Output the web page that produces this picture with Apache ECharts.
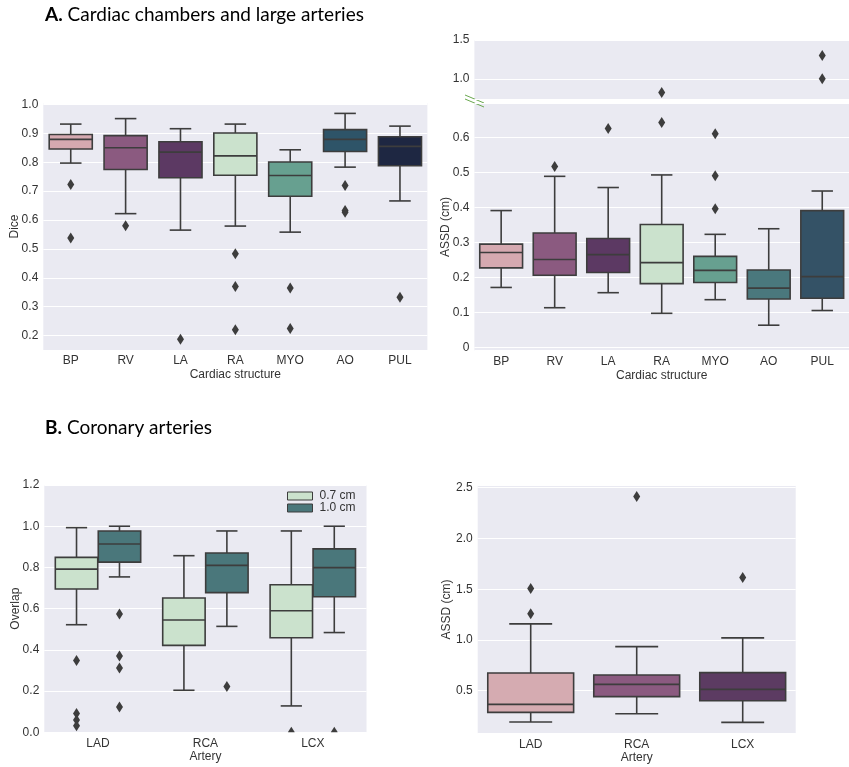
<!DOCTYPE html>
<html>
<head>
<meta charset="utf-8">
<script src="https://cdn.jsdelivr.net/npm/echarts@6/dist/echarts.min.js"></script>
<style>
  html, body { margin: 0; padding: 0; background: #fff; }
  #chart { width: 849px; height: 767px; }
</style>
</head>
<body>
<div id="chart"></div>
<script>
// ---- data ----
var structures = ['BP', 'RV', 'LA', 'RA', 'MYO', 'AO', 'PUL'];
// [lower whisker, Q1, median, Q3, upper whisker]
var diceStats = [
  [0.797, 0.846, 0.879, 0.896, 0.932],
  [0.622, 0.775, 0.850, 0.892, 0.951],
  [0.565, 0.746, 0.835, 0.871, 0.916],
  [0.579, 0.755, 0.822, 0.901, 0.932],
  [0.558, 0.682, 0.754, 0.801, 0.843],
  [0.783, 0.837, 0.879, 0.913, 0.969],
  [0.666, 0.788, 0.855, 0.888, 0.925]
];
var diceOutliers = [
  [0.723, 0.538],
  [0.580],
  [0.187],
  [0.483, 0.370, 0.220],
  [0.365, 0.224],
  [0.719, 0.633, 0.627],
  [0.333]
];
var assdStats = [
  [0.171, 0.227, 0.271, 0.295, 0.391],
  [0.113, 0.206, 0.251, 0.327, 0.489],
  [0.156, 0.214, 0.265, 0.311, 0.457],
  [0.097, 0.182, 0.242, 0.351, 0.493],
  [0.136, 0.185, 0.220, 0.260, 0.323],
  [0.063, 0.138, 0.169, 0.221, 0.339],
  [0.105, 0.140, 0.202, 0.391, 0.447]
];
var assdOutliers = [
  [],
  [0.517],
  [0.626],
  [0.643, 0.824],
  [0.611, 0.491, 0.396],
  [],
  [1.30, 1.00]
];

var arteries = ['LAD', 'RCA', 'LCX'];
var overlap07Stats = [
  [0.522, 0.695, 0.792, 0.849, 0.993],
  [0.204, 0.422, 0.545, 0.652, 0.857],
  [0.128, 0.459, 0.590, 0.716, 0.977]
];
var overlap10Stats = [
  [0.754, 0.826, 0.914, 0.977, 1.000],
  [0.514, 0.678, 0.810, 0.870, 0.977],
  [0.484, 0.658, 0.799, 0.890, 1.000]
];
var overlap07Outliers = [[0.348, 0.091, 0.060, 0.032], [], [0.0]];
var overlap10Outliers = [[0.574, 0.370, 0.312, 0.123], [0.222], [0.0]];
var overlapNames = ['0.7 cm', '1.0 cm'];

var arteryAssdStats = [
  [0.191, 0.286, 0.365, 0.674, 1.158],
  [0.273, 0.441, 0.562, 0.655, 0.934],
  [0.188, 0.401, 0.513, 0.678, 1.020]
];
var arteryAssdOutliers = [[1.507, 1.257], [2.414], [1.615]];

// ---- styles ----
var chamberColors = ['#d5a9b0', '#8b5a80', '#5c3963', '#cbe2cd', '#67a090', '#2e5468', '#1e2742'];
var assdColors = ['#d5a9b0', '#8b5a80', '#5c3963', '#cbe2cd', '#67a090', '#4a787d', '#345266'];
var overlapColors = ['#cbe2cd', '#4a777b'];
var arteryColors = ['#d5abb1', '#8b5a80', '#5c3b62'];
var EDGE = '#3d3d3d';
var BG = '#eaeaf2';
var TXT = '#333';
var FONT = '"Liberation Sans", Arial, sans-serif';
var TITLE_FONT = 'Lato, sans-serif';

function boxData(stats) {
  return stats.map(function (s, i) { return [i].concat(s); });
}
function flierData(outliers) {
  var out = [];
  outliers.forEach(function (vals, i) {
    vals.forEach(function (v) { out.push([i, v]); });
  });
  return out;
}

// box + whiskers (caps half the box width), drawn through the axes' scales
function boxRenderer(widthFrac, offsetFrac, colors) {
  return function (params, api) {
    var cat = api.value(0);
    var band = api.size([1, 0])[0];
    var w = band * widthFrac;
    var cx = api.coord([cat, 0])[0] + band * offsetFrac;
    var y = [1, 2, 3, 4, 5].map(function (d) { return api.coord([cat, api.value(d)])[1]; });
    var ls = { stroke: EDGE, lineWidth: 1.6 };
    var cap = w / 4;
    var fill = typeof colors === 'string' ? colors : colors[params.dataIndex];
    return {
      type: 'group',
      children: [
        { type: 'line', shape: { x1: cx, y1: y[4], x2: cx, y2: y[3] }, style: ls },
        { type: 'line', shape: { x1: cx, y1: y[1], x2: cx, y2: y[0] }, style: ls },
        { type: 'line', shape: { x1: cx - cap, y1: y[4], x2: cx + cap, y2: y[4] }, style: ls },
        { type: 'line', shape: { x1: cx - cap, y1: y[0], x2: cx + cap, y2: y[0] }, style: ls },
        { type: 'rect', shape: { x: cx - w / 2, y: y[3], width: w, height: y[1] - y[3] },
          style: { fill: fill, stroke: EDGE, lineWidth: 1.6 } },
        { type: 'line', shape: { x1: cx - w / 2, y1: y[2], x2: cx + w / 2, y2: y[2] }, style: ls }
      ]
    };
  };
}

// diamond flier markers
function flierRenderer(offsetFrac) {
  return function (params, api) {
    var band = api.size([1, 0])[0];
    var p = api.coord([api.value(0), api.value(1)]);
    var cx = p[0] + band * offsetFrac, cy = p[1];
    return {
      type: 'polygon',
      shape: { points: [[cx, cy - 5.5], [cx + 3.5, cy], [cx, cy + 5.5], [cx - 3.5, cy]] },
      style: { fill: EDGE }
    };
  };
}

function catAxis(gridIndex, cats, opts) {
  var a = {
    type: 'category', gridIndex: gridIndex, data: cats, boundaryGap: true,
    axisLine: { show: false }, axisTick: { show: false }, splitLine: { show: false },
    axisLabel: { color: TXT, fontFamily: FONT, fontSize: 12, margin: 5 },
    nameLocation: 'middle', nameMoveOverlap: false,
    nameTextStyle: { color: TXT, fontFamily: FONT, fontSize: 12 }
  };
  for (var k in opts) a[k] = opts[k];
  return a;
}
function valAxis(gridIndex, opts) {
  var a = {
    type: 'value', gridIndex: gridIndex,
    axisLine: { show: false }, axisTick: { show: false },
    splitLine: { show: true, lineStyle: { color: '#fff', width: 1.2 } },
    axisLabel: { color: TXT, fontFamily: FONT, fontSize: 12, margin: 5, showMinLabel: false, showMaxLabel: false },
    nameLocation: 'middle', nameMoveOverlap: false,
    nameTextStyle: { color: TXT, fontFamily: FONT, fontSize: 12 }
  };
  for (var k in opts) a[k] = opts[k];
  return a;
}
function fmt1(v) { return v.toFixed(1); }

var chart = echarts.init(document.getElementById('chart'), null, { renderer: 'canvas' });

var gridBase = { show: true, backgroundColor: BG, borderWidth: 0 };
function grid(l, r, t, b) {
  return Object.assign({ left: l, right: r, top: t, bottom: b }, gridBase);
}
function panelTitle(text, top) {
  return {
    text: text, left: 45, top: top, padding: 0,
    textStyle: { fontFamily: TITLE_FONT, fontSize: 19, fontWeight: 'normal', color: '#000',
      rich: { b: { fontFamily: TITLE_FONT, fontSize: 19, fontWeight: 'bold', color: '#000' } } }
  };
}

var option = {
  animation: false,
  backgroundColor: '#fff',
  title: [
    panelTitle('{b|A.} Cardiac chambers and large arteries', 5),
    panelTitle('{b|B.} Coronary arteries', 418)
  ],
  legend: {
    data: overlapNames, orient: 'vertical', left: 287, top: 490, padding: 0,
    itemWidth: 25, itemHeight: 8, itemGap: 0, icon: 'rect',
    itemStyle: { borderColor: EDGE, borderWidth: 1 },
    textStyle: { color: TXT, fontFamily: FONT, fontSize: 12, lineHeight: 10, padding: [0, 0, 0, 2] },
    selectedMode: false
  },
  grid: [
    grid(43.3, 421.6, 103, 417),
    grid(474.4, -8, 40, 668),
    grid(474.4, -8, 103.3, 416.3),
    grid(44.3, 482.5, 485, 34.7),
    grid(477.7, 53.3, 485.7, 33.7)
  ],
  xAxis: [
    catAxis(0, structures, { name: 'Cardiac structure', nameGap: 19 }),
    catAxis(1, structures, { axisLabel: { show: false } }),
    catAxis(2, structures, { name: 'Cardiac structure', nameGap: 19 }),
    catAxis(3, arteries, { name: 'Artery', nameGap: 18 }),
    catAxis(4, arteries, { name: 'Artery', nameGap: 18 })
  ],
  yAxis: [
    valAxis(0, { min: 0.15, max: 1.005, minInterval: 0.1, maxInterval: 0.1, name: 'Dice', nameGap: 23,
      axisLabel: { color: TXT, fontFamily: FONT, fontSize: 12, margin: 5, showMinLabel: false, showMaxLabel: false, formatter: fmt1 } }),
    valAxis(1, { min: 0.74, max: 1.5, minInterval: 0.5, maxInterval: 0.5,
      axisLabel: { color: TXT, fontFamily: FONT, fontSize: 12, margin: 5, showMinLabel: false, showMaxLabel: true, formatter: fmt1 } }),
    valAxis(2, { min: -0.01, max: 0.698, minInterval: 0.1, maxInterval: 0.1, name: 'ASSD (cm)', nameGap: 23 }),
    valAxis(3, { min: 0, max: 1.2, interval: 0.2, name: 'Overlap', nameGap: 23,
      axisLabel: { color: TXT, fontFamily: FONT, fontSize: 12, margin: 5, formatter: fmt1 } }),
    valAxis(4, { min: 0.08, max: 2.52, minInterval: 0.5, maxInterval: 0.5, name: 'ASSD (cm)', nameGap: 25,
      axisLabel: { color: TXT, fontFamily: FONT, fontSize: 12, margin: 5, showMinLabel: false, showMaxLabel: false, formatter: fmt1 } })
  ],
  // broken-axis marks between the two ASSD panels
  graphic: [
    { type: 'line', shape: { x1: 465, y1: 95, x2: 484, y2: 103 }, style: { stroke: '#6aa84f', lineWidth: 1 } },
    { type: 'line', shape: { x1: 465, y1: 99, x2: 484, y2: 107 }, style: { stroke: '#6aa84f', lineWidth: 1 } }
  ],
  series: [
    // A: Dice
    { type: 'custom', xAxisIndex: 0, yAxisIndex: 0, data: boxData(diceStats),
      encode: { x: 0, y: [1, 2, 3, 4, 5] }, renderItem: boxRenderer(0.785, 0, chamberColors) },
    { type: 'custom', xAxisIndex: 0, yAxisIndex: 0, data: flierData(diceOutliers), clip: true,
      encode: { x: 0, y: 1 }, renderItem: flierRenderer(0) },
    // A: ASSD (upper, broken part)
    { type: 'custom', xAxisIndex: 1, yAxisIndex: 1,
      data: flierData(assdOutliers).filter(function (d) { return d[1] > 0.74; }), clip: true,
      encode: { x: 0, y: 1 }, renderItem: flierRenderer(0) },
    // A: ASSD (lower)
    { type: 'custom', xAxisIndex: 2, yAxisIndex: 2, data: boxData(assdStats),
      encode: { x: 0, y: [1, 2, 3, 4, 5] }, renderItem: boxRenderer(0.8, 0, assdColors) },
    { type: 'custom', xAxisIndex: 2, yAxisIndex: 2,
      data: flierData(assdOutliers).filter(function (d) { return d[1] < 0.698; }), clip: true,
      encode: { x: 0, y: 1 }, renderItem: flierRenderer(0) },
    // B: Overlap
    { type: 'custom', name: overlapNames[0], xAxisIndex: 3, yAxisIndex: 3, data: boxData(overlap07Stats),
      itemStyle: { color: overlapColors[0], borderColor: EDGE, borderWidth: 1 },
      encode: { x: 0, y: [1, 2, 3, 4, 5] }, renderItem: boxRenderer(0.395, -0.2, overlapColors[0]) },
    { type: 'custom', name: overlapNames[1], xAxisIndex: 3, yAxisIndex: 3, data: boxData(overlap10Stats),
      itemStyle: { color: overlapColors[1], borderColor: EDGE, borderWidth: 1 },
      encode: { x: 0, y: [1, 2, 3, 4, 5] }, renderItem: boxRenderer(0.395, 0.2, overlapColors[1]) },
    { type: 'custom', xAxisIndex: 3, yAxisIndex: 3, data: flierData(overlap07Outliers), clip: true,
      encode: { x: 0, y: 1 }, renderItem: flierRenderer(-0.2) },
    { type: 'custom', xAxisIndex: 3, yAxisIndex: 3, data: flierData(overlap10Outliers), clip: true,
      encode: { x: 0, y: 1 }, renderItem: flierRenderer(0.2) },
    // B: ASSD
    { type: 'custom', xAxisIndex: 4, yAxisIndex: 4, data: boxData(arteryAssdStats),
      encode: { x: 0, y: [1, 2, 3, 4, 5] }, renderItem: boxRenderer(0.81, 0, arteryColors) },
    { type: 'custom', xAxisIndex: 4, yAxisIndex: 4, data: flierData(arteryAssdOutliers), clip: true,
      encode: { x: 0, y: 1 }, renderItem: flierRenderer(0) }
  ]
};

chart.setOption(option);
</script>
</body>
</html>
